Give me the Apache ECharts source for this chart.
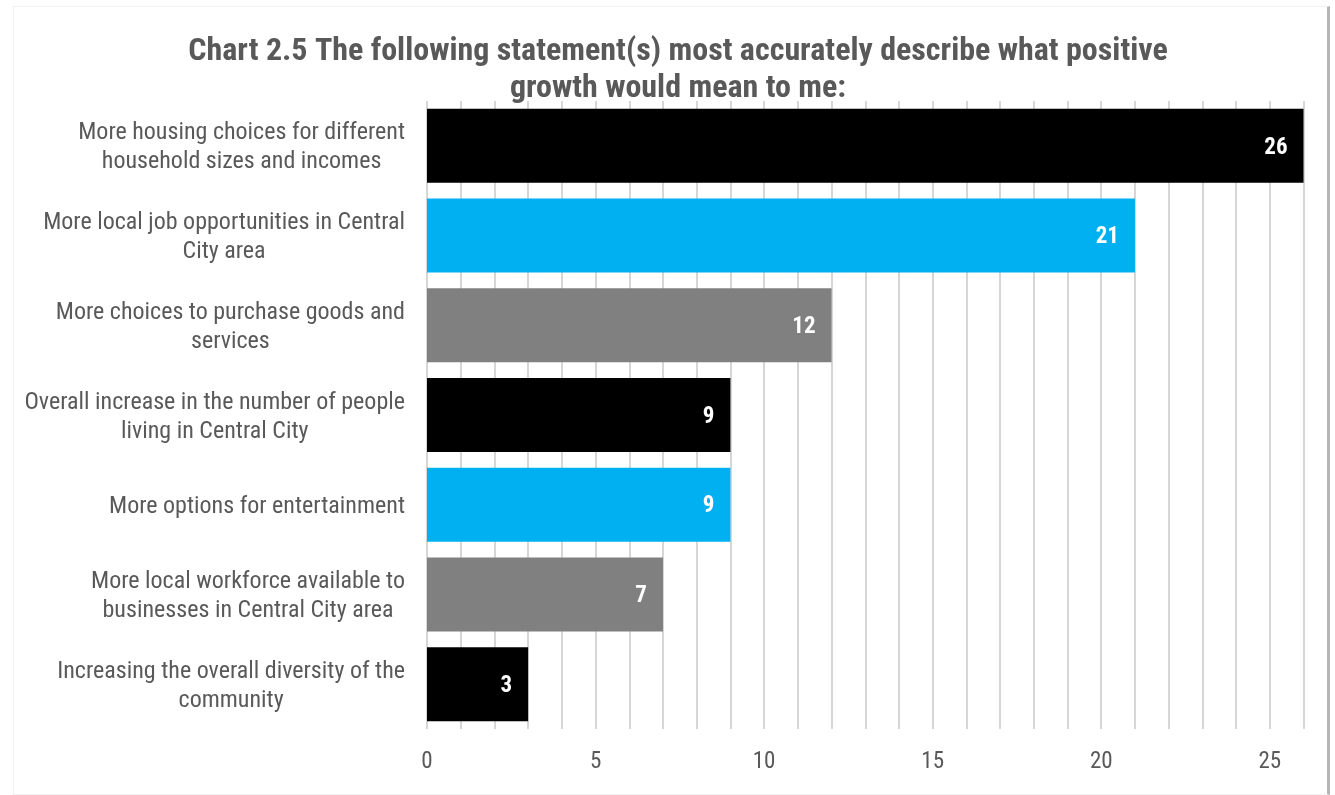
<!DOCTYPE html>
<html>
<head>
<meta charset="utf-8">
<script src="https://cdn.jsdelivr.net/npm/echarts@6/dist/echarts.min.js"></script>
<style>
  html, body { margin: 0; padding: 0; background: #ffffff; }
  #frame { position: absolute; left: 13px; top: 6px; width: 1317px; height: 789px; border: 1px solid #f2f2f2; border-right: 3px solid #b5b5b5; box-sizing: border-box; }
  #chart { position: absolute; left: 0; top: 0; width: 1335px; height: 795px; }
</style>
</head>
<body>
<div id="frame"></div>
<div id="chart"></div>
<script>
const titleText = 'Chart 2.5 The following statement(s) most accurately describe what positive\ngrowth would mean to me:';
const categories = [
  'More housing choices for different\nhousehold sizes and incomes',
  'More local job opportunities in Central\nCity area',
  'More choices to purchase goods and\nservices',
  'Overall increase in the number of people\nliving in Central City',
  'More options for entertainment',
  'More local workforce available to\nbusinesses in Central City area',
  'Increasing the overall diversity of the\ncommunity'
];
const values = [26, 21, 12, 9, 9, 7, 3];
const barColors = ['#000000', '#00B0F0', '#808080', '#000000', '#00B0F0', '#808080', '#000000'];
const axisMin = 0, axisMax = 26, gridStep = 1, labelStep = 5;

const FONT = "'Roboto Condensed', 'Liberation Sans Narrow', 'Arial Narrow', Roboto, sans-serif";
const chart = echarts.init(document.getElementById('chart'), null, { renderer: 'canvas' });
chart.setOption({
  backgroundColor: 'transparent',
  animation: false,
  title: {
    text: titleText,
    left: 673,
    textAlign: 'center',
    top: 28,
    textStyle: { fontFamily: FONT, fontWeight: 'bold', fontSize: 32, lineHeight: 37, color: '#595959' }
  },
  grid: { left: 427, right: 31.5, top: 101, bottom: 66, containLabel: false },
  xAxis: {
    type: 'value',
    min: axisMin, max: axisMax, interval: gridStep,
    axisLine: { show: false },
    axisTick: { show: false },
    splitLine: { show: true, lineStyle: { color: '#c9c9c9', width: 1.5 } },
    axisLabel: {
      margin: 22,
      fontFamily: FONT, fontSize: 23, color: '#595959',
      formatter: v => (v % labelStep === 0 ? String(v) : '')
    }
  },
  yAxis: {
    type: 'category',
    inverse: true,
    data: categories,
    axisLine: { show: false },
    axisTick: { show: false },
    axisLabel: {
      margin: 22,
      padding: [4, 0, 0, 0],
      fontFamily: FONT, fontSize: 24, color: '#595959', lineHeight: 29,
      formatter: s => s.split('\n').map(l => '{c|' + l + '}').join('\n'),
      rich: { c: { align: 'center', fontFamily: FONT, fontSize: 24, color: '#595959', lineHeight: 29 } }
    }
  },
  series: [{
    type: 'bar',
    data: values.map((v, i) => ({ value: v, itemStyle: { color: barColors[i] } })),
    barCategoryGap: '17.5%',
    label: {
      show: true, position: 'insideRight', distance: 16, offset: [0, 2],
      color: '#ffffff', fontFamily: FONT, fontWeight: 'bold', fontSize: 23
    }
  }]
});
</script>
</body>
</html>
